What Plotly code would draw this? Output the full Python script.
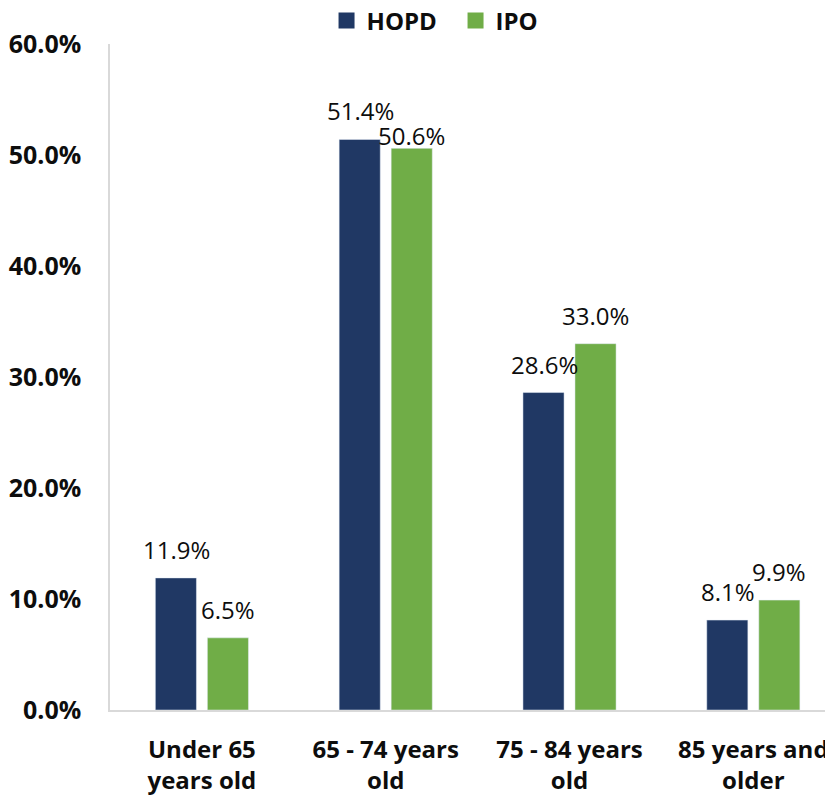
import plotly.graph_objects as go

categories = ["Under 65<br>years old", "65 - 74 years<br>old", "75 - 84 years<br>old", "85 years and<br>older"]
hopd = [11.9, 51.4, 28.6, 8.1]
ipo = [6.5, 50.6, 33.0, 9.9]
y_ticks = [0, 10, 20, 30, 40, 50, 60]

NAVY = "#203864"
GREEN = "#70AD47"
FONT = "Open Sans"
TEXT = "#0d0d0d"

fig = go.Figure()
fig.add_trace(go.Bar(x=categories, y=hopd, name="HOPD", marker_color=NAVY, showlegend=False))
fig.add_trace(go.Bar(x=categories, y=ipo, name="IPO", marker_color=GREEN, showlegend=False))

# legend entries with bigger square swatches
for name, col in [("HOPD", NAVY), ("IPO", GREEN)]:
    fig.add_trace(go.Scatter(x=[None], y=[None], mode="markers", name=name,
                             marker=dict(symbol="square", size=16, color=col)))

# value labels; 50.6% sits lower, tucked under 51.4% like the original
label_dy = {("IPO", 1): -16}
for name, vals, dx in [("HOPD", hopd, -25), ("IPO", ipo, 26)]:
    for i, v in enumerate(vals):
        fig.add_annotation(
            x=categories[i], y=v, text=f"{v:.1f}%", showarrow=False,
            xshift=dx, yshift=10 + label_dy.get((name, i), 0), yanchor="bottom",
            font=dict(family=FONT, size=24, color=TEXT),
        )

# page body adds an 8px offset, margins are reduced to compensate
fig.update_layout(
    width=833, height=797,
    paper_bgcolor="white", plot_bgcolor="white",
    margin=dict(l=102, r=0, t=36, b=95, autoexpand=False),
    barmode="group", bargap=0.434, bargroupgap=0.21,
    font=dict(family=FONT, color=TEXT),
    legend=dict(
        orientation="h", xref="container", x=0.3824, xanchor="left",
        yref="container", y=1 - 13 / 797, yanchor="middle",
        font=dict(family=FONT, size=24, color=TEXT, weight="bold"),
        itemsizing="trace", traceorder="normal",
        entrywidth=84, entrywidthmode="pixels",
    ),
)
fig.update_xaxes(
    range=[-0.5, 3.477],
    showline=True, linecolor="#D9D9D9", linewidth=1.5, ticks="",
    tickfont=dict(family=FONT, size=24, color=TEXT, weight="bold"),
    ticklabelstandoff=17, automargin=False,
)
fig.update_yaxes(
    range=[0, 60], tickvals=y_ticks, ticktext=[f"{t:.1f}%" for t in y_ticks],
    showgrid=False, zeroline=False, showline=True, linecolor="#D9D9D9", linewidth=1.5,
    ticks="", ticklabelstandoff=22, automargin=False,
    tickfont=dict(family=FONT, size=25, color=TEXT, weight="bold"),
)

fig.write_html("out.html")
